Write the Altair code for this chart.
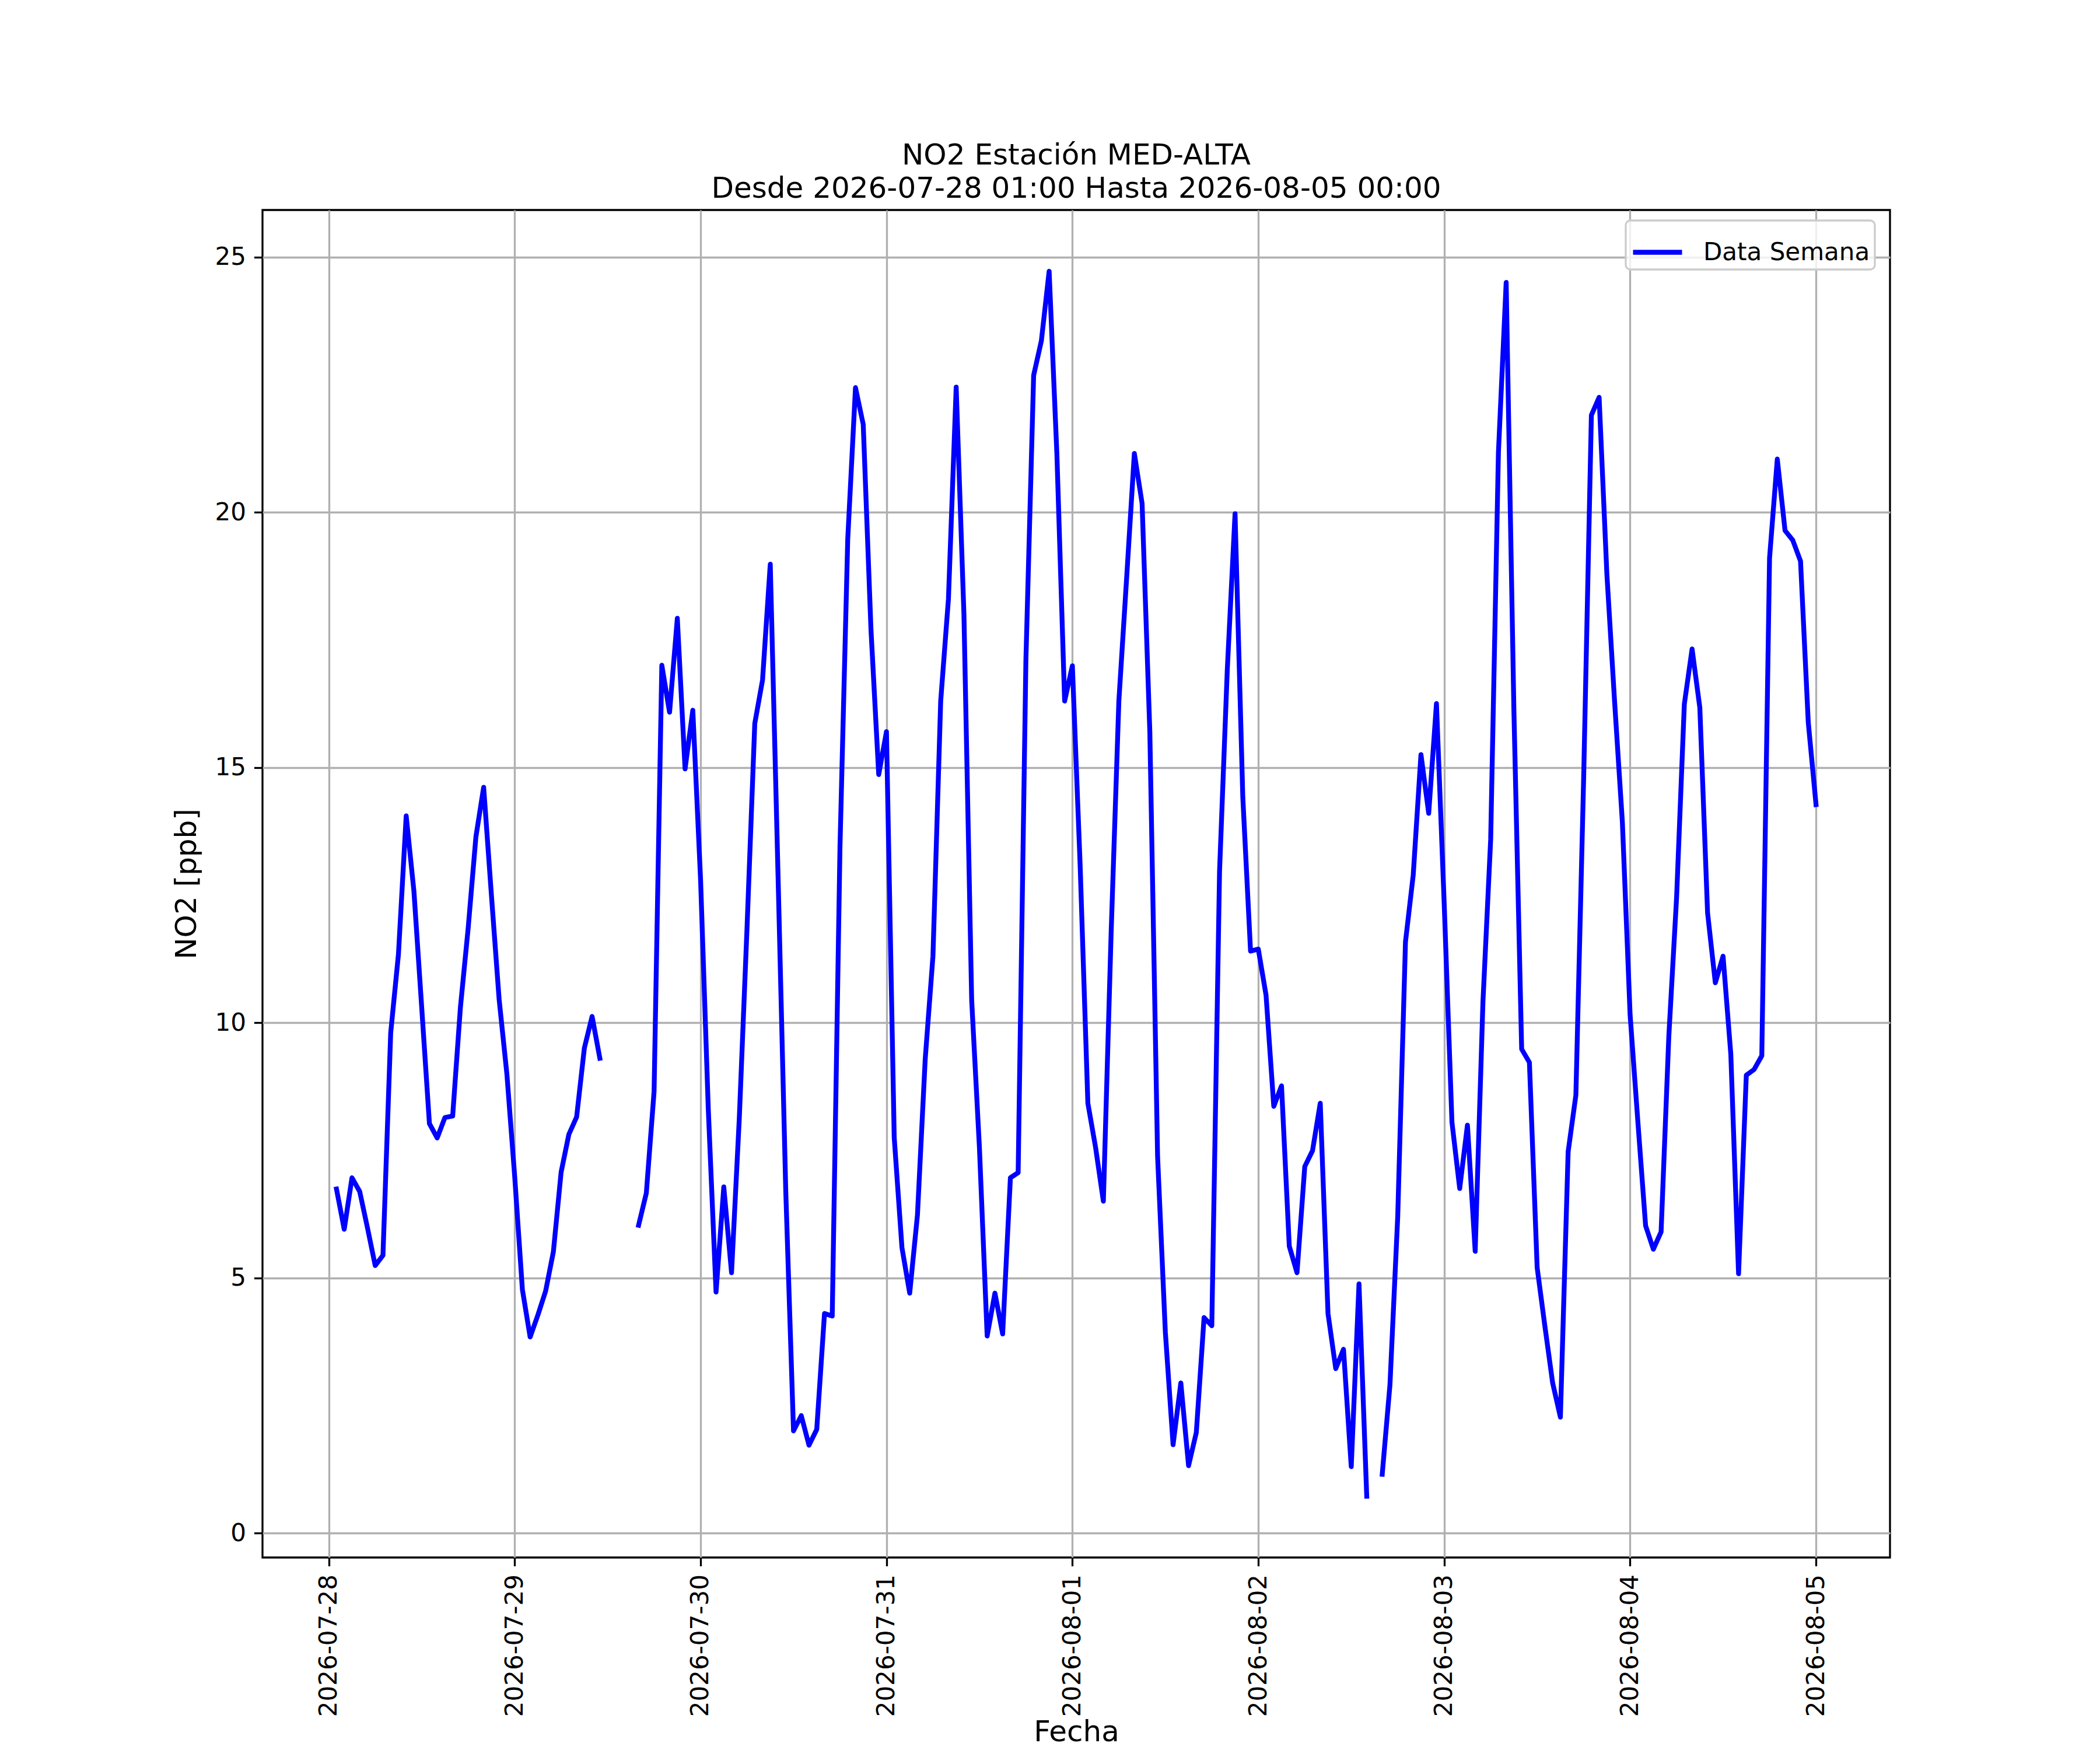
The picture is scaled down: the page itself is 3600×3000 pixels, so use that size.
import altair as alt
import pandas as pd

# Hourly NO2 values (ppb); each list starts at 01:00 of the named day and ends at 00:00 of the next day
jul28 = [6.74, 5.95, 6.96, 6.69, 5.98, 5.24, 5.44, 9.80, 11.34, 14.05, 12.57, 10.30,
         8.02, 7.74, 8.14, 8.17, 10.30, 11.85, 13.64, 14.61, 12.50, 10.45, 8.99, 7.00]
jul29 = [4.77, 3.84, 4.27, 4.74, 5.51, 7.07, 7.81, 8.15, 9.50, 10.12, 9.30, None,
         None, None, None, 6.03, 6.66, 8.65, 17.00, 16.08, 17.92, 14.97, 16.12, 12.81]
jul30 = [8.30, 4.72, 6.78, 5.10, 8.12, 11.86, 15.86, 16.71, 18.98, 12.90, 6.70, 2.00,
         2.30, 1.72, 2.03, 4.30, 4.25, 13.45, 19.47, 22.44, 21.72, 17.70, 14.86, 15.70]
jul31 = [7.75, 5.59, 4.70, 6.23, 9.28, 11.30, 16.30, 18.30, 22.45, 18.00, 10.44, 7.55,
         3.86, 4.70, 3.90, 6.96, 7.06, 17.10, 22.68, 23.36, 24.72, 21.14, 16.30, 16.99]
aug01 = [13.09, 8.42, 7.55, 6.50, 11.74, 16.30, 18.70, 21.15, 20.17, 15.69, 7.38, 3.94,
         1.73, 2.94, 1.32, 1.97, 4.22, 4.06, 12.97, 16.92, 19.97, 14.42, 11.40, 11.44]
aug02 = [10.54, 8.36, 8.76, 5.62, 5.10, 7.18, 7.49, 8.42, 4.30, 3.22, 3.60, 1.30,
         4.88, 0.72, None, 1.15, 2.91, 6.20, 11.58, 12.89, 15.25, 14.10, 16.25, 12.33]
aug03 = [8.05, 6.75, 7.99, 5.52, 10.40, 13.59, 21.17, 24.50, 16.10, 9.48, 9.22, 5.20,
         4.05, 2.94, 2.27, 7.47, 8.58, 14.77, 21.90, 22.25, 18.79, 16.28, 13.93, 10.15]
aug04 = [8.06, 6.02, 5.56, 5.90, 9.74, 12.45, 16.24, 17.32, 16.17, 12.15, 10.78, 11.30,
         9.38, 5.08, 8.97, 9.08, 9.35, 19.10, 21.04, 19.64, 19.45, 19.04, 15.88, 14.27]

start = "2026-07-28 01:00"
tick_days = [(7, 28), (7, 29), (7, 30), (7, 31), (8, 1), (8, 2), (8, 3), (8, 4), (8, 5)]
y_ticks = [0, 5, 10, 15, 20, 25]
series_name = "Data Semana"
title_lines = ["NO2 Estación MED-ALTA", "Desde 2026-07-28 01:00 Hasta 2026-08-05 00:00"]

values = jul28 + jul29 + jul30 + jul31 + aug01 + aug02 + aug03 + aug04
times = pd.date_range(start, periods=len(values), freq="h")

# split into continuous segments so gaps (missing hours) break the line
segs = []
s = 0
prev_missing = False
for v in values:
    if v is None:
        prev_missing = True
        segs.append(None)
        continue
    if prev_missing:
        s += 1
        prev_missing = False
    segs.append(s)

df = pd.DataFrame({"fecha": times, "no2": values, "seg": segs})
df["serie"] = series_name
df = df[df["no2"].notna()].copy()
df["seg"] = df["seg"].astype(int)

FONT = "DejaVu Sans"

x_domain = [alt.DateTime(year=2026, month=7, date=27, hours=15, minutes=27),
            alt.DateTime(year=2026, month=8, date=5, hours=9, minutes=33)]
x_values = [alt.DateTime(year=2026, month=m, date=d) for m, d in tick_days]

chart = alt.Chart(df).mark_line(
    strokeWidth=8.3, strokeJoin="round", strokeCap="square"
).encode(
    x=alt.X("fecha:T", title="Fecha",
            scale=alt.Scale(domain=x_domain),
            axis=alt.Axis(values=x_values, format="%Y-%m-%d", labelAngle=270,
                          labelAlign="right", labelBaseline="middle",
                          labelFlush=False, labelOverlap=False,
                          labelPadding=14, titlePadding=74)),
    y=alt.Y("no2:Q", title="NO2 [ppb]",
            scale=alt.Scale(domain=[-0.48, 25.92], nice=False, zero=False),
            axis=alt.Axis(values=y_ticks, format="d", titlePadding=22)),
    color=alt.Color("serie:N",
                    scale=alt.Scale(domain=[series_name], range=["#0000ff"]),
                    legend=alt.Legend(title=None, orient="none", legendX=2337, legendY=18)),
    detail=alt.Detail("seg:N"),
).properties(
    width=2790,
    height=2310,
    padding={"left": 442, "top": 352, "right": 352, "bottom": 322},
    autosize=alt.AutoSizeParams(type="none"),
    title=alt.TitleParams(text=title_lines, fontSize=50, font=FONT,
                          fontWeight="normal", anchor="middle", color="black",
                          offset=-29, lineHeight=57, baseline="alphabetic"),
).configure_view(
    stroke="black", strokeWidth=3.3
).configure_axis(
    labelFont=FONT, labelFontSize=42, labelColor="black", labelPadding=14,
    labelLimit=0,
    titleFont=FONT, titleFontSize=50, titleFontWeight="normal", titleColor="black",
    tickColor="black", tickWidth=3.3, tickSize=14.6,
    gridColor="#b0b0b0", gridWidth=3.3, grid=True, domain=False,
).configure_legend(
    labelFont=FONT, labelFontSize=42, labelColor="black", labelOffset=32,
    labelLimit=0,
    symbolType="stroke", symbolSize=7056, symbolStrokeWidth=8.3,
    padding=8, strokeColor="#cccccc", strokeWidth=3.3, cornerRadius=8,
    fillColor="rgba(255,255,255,0.8)",
)

chart.save("out.html", embed_options={"renderer": "svg", "actions": False})
